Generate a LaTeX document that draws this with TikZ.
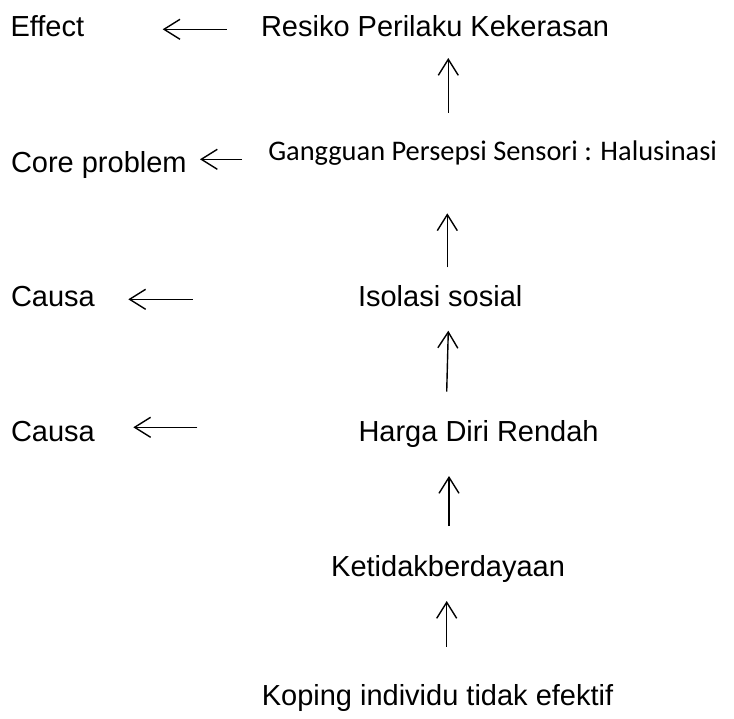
\documentclass[tikz,border=0pt]{standalone}
\usepackage{fontspec}
\setmainfont{Liberation Sans}
\newfontfamily\calibrilike{Carlito}
\usetikzlibrary{arrows.meta}
\tikzset{
  lbl/.style={anchor=base west, inner sep=0pt, outer sep=0pt, font=\fontsize{29}{34}\selectfont},
  lblc/.style={anchor=base west, inner sep=0pt, outer sep=0pt, font=\calibrilike\fontsize{28.4}{34}\selectfont},
  arr/.style={line width=1.4pt, -{Straight Barb[length=16pt, width=20pt, line width=1.4pt]}}
}
\begin{document}
\begin{tikzpicture}[x=1pt,y=-1pt]
\useasboundingbox (0,0) rectangle (734,718);
% labels
\node[lbl] (effect) at (10.5,36.7) {Effect};
\node[lbl] (resiko) at (261,36.7) {Resiko Perilaku Kekerasan};
\node[lbl] (core) at (11,172.7) {Core problem};
\node[lblc] (gangguan) at (268.3,160.5) {Gangguan Persepsi Sensori : Halusinasi};
\node[lbl] (causa1) at (11,306.7) {Causa};
\node[lbl] (isolasi) at (358,306.7) {Isolasi sosial};
\node[lbl] (causa2) at (11,441.7) {Causa};
\node[lbl] (harga) at (358.5,441.5) {Harga Diri Rendah};
\node[lbl] (ketidak) at (331.2,576.7) {Ketidakberdayaan};
\node[lbl] (koping) at (261.8,705) {Koping individu tidak efektif};
% connector end points
\coordinate (e1) at (226.7,29.3);  \coordinate (e2) at (162.7,29.3);
\coordinate (c1) at (242,159.3);   \coordinate (c2) at (200,159.3);
\coordinate (k1) at (192.7,299.3); \coordinate (k2) at (128.3,299.3);
\coordinate (h1) at (197.3,427.3); \coordinate (h2) at (133.3,427.3);
\coordinate (u1a) at (448.3,112.7); \coordinate (u1b) at (448.3,58);
\coordinate (u2a) at (447.3,267.3); \coordinate (u2b) at (447.3,213.3);
\coordinate (u3a) at (446.7,391.7); \coordinate (u3b) at (448.3,330.7);
\coordinate (u4a) at (449,526);     \coordinate (u4b) at (449,476);
\coordinate (u5a) at (446.7,646.7); \coordinate (u5b) at (446.7,601);
% connectors
\draw[arr] (e1) -- (e2);
\draw[arr] (c1) -- (c2);
\draw[arr] (k1) -- (k2);
\draw[arr] (h1) -- (h2);
\draw[arr] (u1a) -- (u1b);
\draw[arr] (u2a) -- (u2b);
\draw[arr] (u3a) -- (u3b);
\draw[arr] (u4a) -- (u4b);
\draw[arr] (u5a) -- (u5b);
\end{tikzpicture}
\end{document}
